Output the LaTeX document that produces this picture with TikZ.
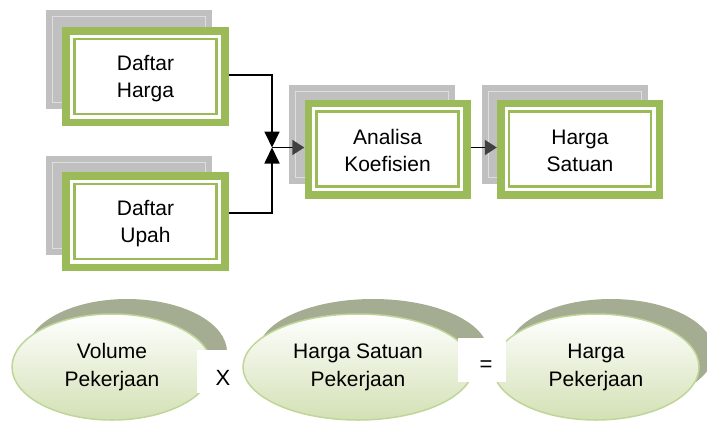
\documentclass[tikz,border=0pt]{standalone}
\usepackage{fontspec}
\setmainfont{Liberation Sans}
\usetikzlibrary{shapes.geometric,arrows.meta}
\definecolor{boxgreen}{HTML}{9BBB59}
\definecolor{boxgray}{HTML}{C0C0C0}
\definecolor{innergray}{HTML}{DEDEDE}
\definecolor{shadowcol}{HTML}{A4AC91}
\definecolor{ellgreen}{HTML}{D3E1B5}
\definecolor{ellborder}{HTML}{C0D598}
\definecolor{tipgray}{HTML}{404040}
\begin{document}
\begin{tikzpicture}[x=1bp,y=-1bp,
  backbox/.style={rectangle, fill=boxgray, minimum width=166bp, minimum height=99bp, inner sep=0pt,
    path picture={\draw[innergray, line width=1bp] ([shift={(6.5bp,-6.5bp)}]path picture bounding box.north west) rectangle ([shift={(-6.5bp,6.5bp)}]path picture bounding box.south east);}},
  frontbox/.style={rectangle, fill=boxgreen, minimum width=166bp, minimum height=99bp, inner sep=0pt, align=center,
    font=\fontsize{21bp}{27bp}\selectfont,
    path picture={\fill[white] ([shift={(7.5bp,-7.5bp)}]path picture bounding box.north west) rectangle ([shift={(-7.5bp,7.5bp)}]path picture bounding box.south east);
      \draw[boxgreen, line width=2.7bp] ([shift={(12bp,-12bp)}]path picture bounding box.north west) rectangle ([shift={(-12bp,12bp)}]path picture bounding box.south east);}},
  shadowell/.style={ellipse, fill=shadowcol, inner sep=0pt, minimum height=106bp},
  frontell/.style={ellipse, draw=ellborder, line width=1.5bp, top color=white, bottom color=ellgreen, inner sep=0pt,
    minimum height=106bp, align=center, font=\fontsize{21bp}{28bp}\selectfont},
  opbox/.style={rectangle, fill=white, inner sep=0pt},
  optext/.style={inner sep=0pt, font=\fontsize{22bp}{24bp}\selectfont},
  link/.style={draw=black, line width=1.8bp},
  jtip/.style={-{Triangle[length=16bp,width=15bp]}},
  gtip/.style={-{Triangle[length=12bp,width=15bp,color=tipgray,fill=tipgray]}}
]
\useasboundingbox (0,0) rectangle (707,423);

% boxes
\node[backbox] (hb) at (129,59.5) {};
\node[frontbox] (h) at (145.5,76.5) {\rule{0pt}{19bp}Daftar\\Harga};
\node[backbox] (ub) at (129,205.5) {};
\node[frontbox] (u) at (145.5,221.5) {\rule{0pt}{19bp}Daftar\\Upah};
\node[backbox] (ab) at (371.5,134) {};
\node[frontbox] (a) at (387.5,149) {\rule{0pt}{19bp}Analisa\\Koefisien};
\node[backbox] (sb) at (564.5,134) {};
\node[frontbox] (s) at (580,149) {\rule{0pt}{19bp}Harga\\Satuan};

% connectors
\coordinate (j) at (272,147.5);
\coordinate (hj) at (272,75);
\coordinate (uj) at (272,213);
\draw[link,jtip] (hj -| h.east) -- (hj) -- (j);
\draw[link,jtip] (uj -| u.east) -- (uj) -- (j);
\draw[link,gtip] (j) -- (j -| a.west);
\draw[link,gtip] (j -| a.east) -- (j -| s.west);

% ellipses
\node[shadowell, minimum width=200bp] (sh1) at (127,352) {};
\node[frontell, minimum width=200bp] (e1) at (112,367) {Volume\\Pekerjaan};
\node[shadowell, minimum width=230bp] (sh2) at (373,352) {};
\node[frontell, minimum width=230bp] (e2) at (358,367) {Harga Satuan\\Pekerjaan};
\node[shadowell, minimum width=206bp] (sh3) at (611,352) {};
\node[frontell, minimum width=206bp] (e3) at (596,367) {Harga\\Pekerjaan};

% operator boxes
\node[opbox, minimum width=43bp, minimum height=43bp] (xb) at (218.5,371.5) {};
\node[optext] (xt) at (223,378) {X};
\node[opbox, minimum width=48bp, minimum height=44bp] (qb) at (482,360) {};
\node[optext] (qt) at (486,366) {=};
\end{tikzpicture}
\end{document}
